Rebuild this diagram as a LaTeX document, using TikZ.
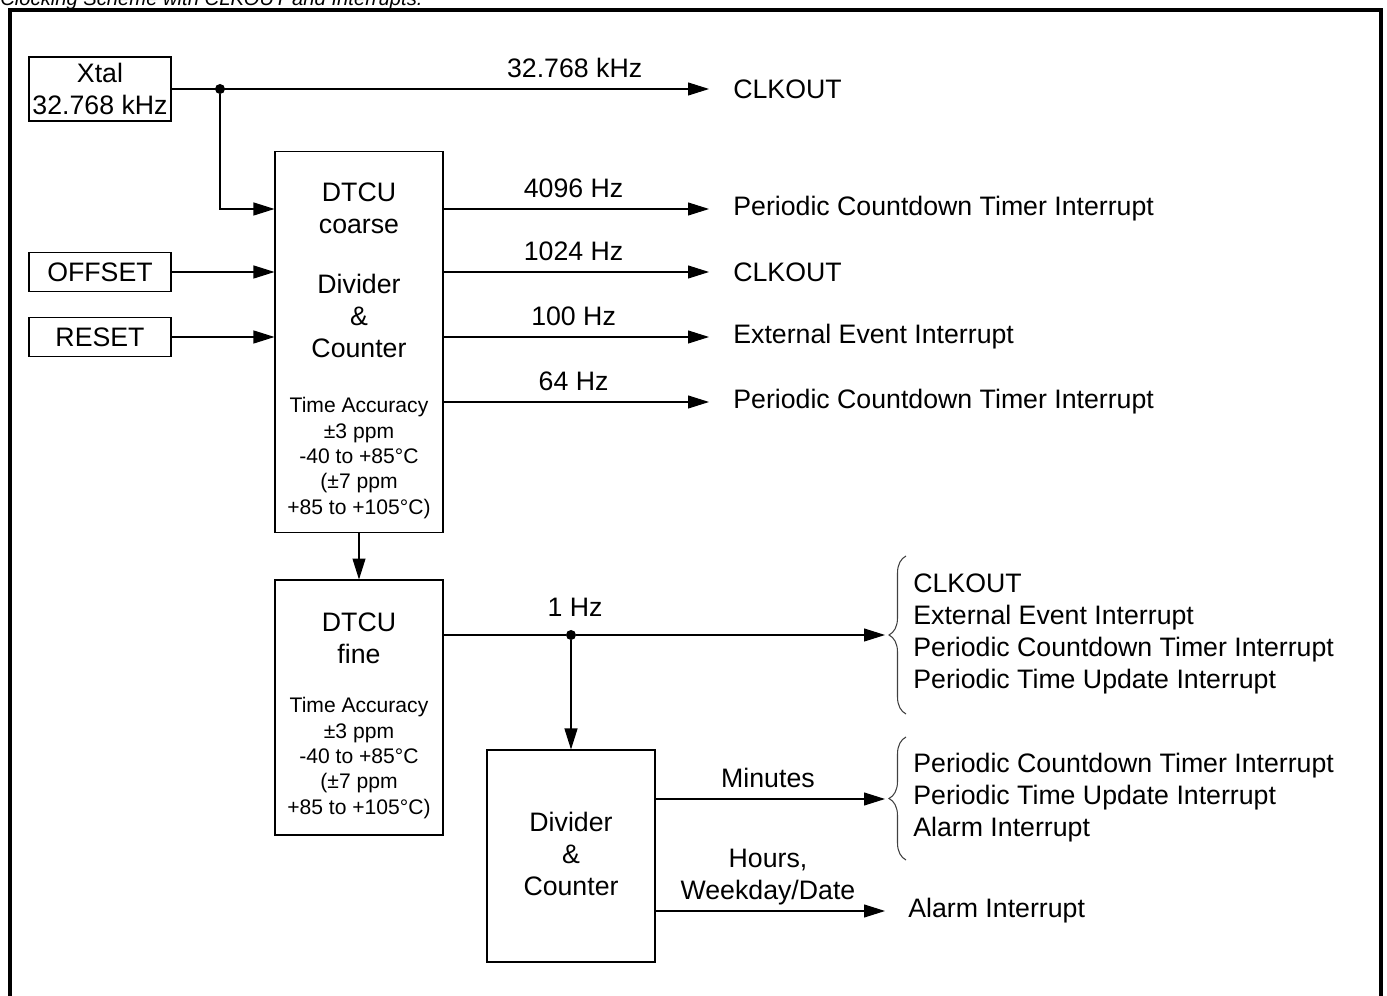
\documentclass[tikz,border=0pt]{standalone}
\usepackage{fontspec}
\setmainfont{Liberation Sans}
\usetikzlibrary{arrows.meta,positioning,decorations.pathreplacing,calc}
\tikzset{
  blk/.style={rectangle, draw, line width=0.6pt, minimum width=3.36cm, inner sep=0pt},
  lbl/.style={font=\fontsize{15.2}{18.2}\selectfont, align=center, inner sep=0pt},
  note/.style={font=\fontsize{12}{14.4}\selectfont, align=center, inner sep=0pt},
  outtxt/.style={font=\fontsize{15.2}{18.2}\selectfont, align=left, anchor=west, inner sep=0pt},
  sig/.style={-{Triangle[length=0.42cm,width=0.26cm]}, line width=0.6pt},
  wire/.style={line width=0.6pt},
  jdot/.style={circle, fill, inner sep=0pt, minimum size=0.2cm},
  brc/.style={decorate, decoration={brace, amplitude=0.34cm}, line width=0.6pt, draw=black!75}
}
\begin{document}
\begin{tikzpicture}[x=0.02cm, y=-0.02cm]
  \useasboundingbox (0,0) rectangle (1387,996);
  \draw[line width=2.6pt] (10,10) rectangle (1381,1010);
  \node[anchor=base west, inner sep=0pt, font=\fontsize{11.5}{14}\selectfont\itshape] (title) at (0,6)
    {Clocking Scheme with CLKOUT and Interrupts.};

  % inputs
  \node[blk, lbl, minimum width=2.84cm, minimum height=1.28cm] (xtal) at (100,89) {Xtal\\32.768 kHz};
  \node[blk, lbl, minimum width=2.84cm, minimum height=0.78cm] (offset) at (100,272) {OFFSET};
  \node[blk, lbl, minimum width=2.84cm, minimum height=0.78cm] (reset) at (100,337) {RESET};

  % coarse and fine blocks
  \node[blk, minimum height=7.64cm] (coarse) at (359,342) {};
  \node[lbl] (coarseA) at (359,208) {DTCU\\coarse};
  \node[lbl] (coarseB) at (359,316) {Divider\\\&\\Counter};
  \node[note] (coarseC) at (359,458) {Time Accuracy\\±3 ppm\\-40 to +85°C\\(±7 ppm\\+85 to +105°C)};
  \node[blk, minimum height=5.10cm] (fine) at (359,707.5) {};
  \node[lbl] (fineA) at (359,638) {DTCU\\fine};
  \node[note] (fineB) at (359,758) {Time Accuracy\\±3 ppm\\-40 to +85°C\\(±7 ppm\\+85 to +105°C)};
  \node[blk, minimum height=4.24cm] (divider) at (571,856) {};
  \node[lbl] (dividerA) at (571,854) {Divider\\\&\\Counter};

  % outputs
  \node[outtxt] (out1) at (733,89) {CLKOUT};
  \node[outtxt] (out2) at (733,209) {Periodic Countdown Timer Interrupt};
  \node[outtxt] (out3) at (733,272) {CLKOUT};
  \node[outtxt] (out4) at (733,337) {External Event Interrupt};
  \node[outtxt] (out5) at (733,402) {Periodic Countdown Timer Interrupt};
  \node[outtxt] (grp1) at (913,633.5) {CLKOUT\\External Event Interrupt\\Periodic Countdown Timer Interrupt\\Periodic Time Update Interrupt};
  \node[outtxt] (grp2) at (913,798) {Periodic Countdown Timer Interrupt\\Periodic Time Update Interrupt\\Alarm Interrupt};
  \node[outtxt] (alarm) at (908,911) {Alarm Interrupt};

  % braces
  \draw[brc] (906,714) -- (906,556);
  \draw[brc] (906,860) -- (906,737);
  \coordinate (b1tip) at (885,635);
  \coordinate (b2tip) at (885,799);

  % connections
  \draw[sig] (xtal) -- ([xshift=-0.48cm]out1.west) node[lbl, pos=0.75, above=6pt] (f32) {32.768 kHz};
  \node[jdot] (j1) at (220,89) {};
  \draw[sig] (j1) |- (coarse.west |- out2);
  \draw[sig] (offset) -- (offset -| coarse.west);
  \draw[sig] (reset) -- (reset -| coarse.west);
  \draw[sig] (coarse.east |- out2) -- ([xshift=-0.48cm]out2.west) node[lbl, pos=0.49, above=6pt] (f4096) {4096 Hz};
  \draw[sig] (coarse.east |- out3) -- ([xshift=-0.48cm]out3.west) node[lbl, pos=0.49, above=6pt] (f1024) {1024 Hz};
  \draw[sig] (coarse.east |- out4) -- ([xshift=-0.48cm]out4.west) node[lbl, pos=0.49, above=6pt] (f100) {100 Hz};
  \draw[sig] (coarse.east |- out5) -- ([xshift=-0.48cm]out5.west) node[lbl, pos=0.49, above=6pt] (f64) {64 Hz};
  \draw[sig] (coarse) -- (fine);
  \node[jdot] (j2) at (571,635) {};
  \draw[wire] (fine.east |- j2) -- (j2);
  \draw[sig] (j2) -- (b1tip);
  \node[lbl] (f1) at (575,607) {1 Hz};
  \draw[sig] (j2) -- (j2 |- divider.north);
  \draw[sig] (divider.east |- b2tip) -- (b2tip) node[lbl, pos=0.49, above=6pt] (fmin) {Minutes};
  \draw[sig] (divider.east |- alarm) -- ([xshift=-0.46cm]alarm.west) node[lbl, pos=0.49, above=3pt] (fhrs) {Hours,\\Weekday/Date};
\end{tikzpicture}
\end{document}
